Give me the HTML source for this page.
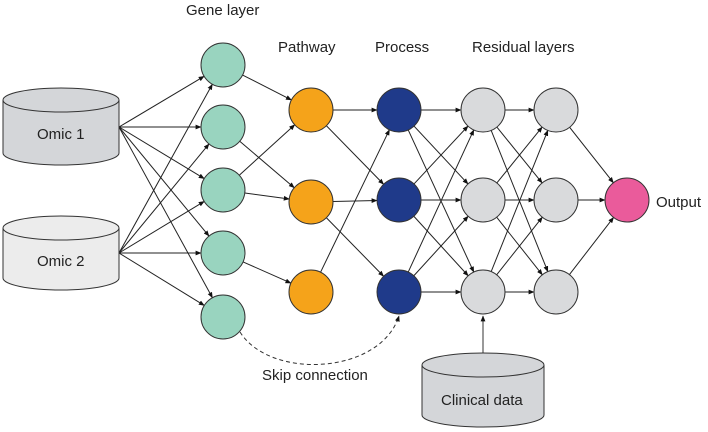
<!DOCTYPE html>
<html><head><meta charset="utf-8"><style>
body{margin:0;background:#fff}
svg{display:block}
text{font-family:"Liberation Sans",sans-serif;font-size:15px;fill:#222}
</style></head><body>
<svg id="s" width="708" height="432" viewBox="0 0 708 432" xmlns="http://www.w3.org/2000/svg">
<defs><marker id="a" viewBox="0 0 10 10" refX="9" refY="5" markerWidth="6" markerHeight="6" orient="auto"><path d="M0,1 L10,5 L0,9 z" fill="#111"/></marker></defs>
<g id="edges" stroke="#222" stroke-width="1" fill="none"></g>
<path d="M240,332 C270,380 380,375 399,316" stroke="#333" stroke-dasharray="4,3" fill="none" marker-end="url(#a)"/>
<line x1="483" y1="355" x2="483" y2="316" stroke="#333" marker-end="url(#a)"/>
<!-- cylinders -->
<g stroke="#333" stroke-width="1">
<path d="M3,100 L3,153 A58,12 0 0 0 119,153 L119,100" fill="#d4d6d9"/>
<ellipse cx="61" cy="100" rx="58" ry="12" fill="#d4d6d9"/>
<path d="M3,228 L3,278 A58,12 0 0 0 119,278 L119,228" fill="#ececec"/>
<ellipse cx="61" cy="228" rx="58" ry="12" fill="#ececec"/>
<path d="M422,365 L422,415 A61,12 0 0 0 544,415 L544,365" fill="#d4d6d9"/>
<ellipse cx="483" cy="365" rx="61" ry="12" fill="#d4d6d9"/>
</g>
<g id="nodes" stroke="#333" stroke-width="1"></g>
<text x="37" y="139">Omic 1</text>
<text x="37" y="266">Omic 2</text>
<text x="441" y="405">Clinical data</text>
<text x="186" y="15">Gene layer</text>
<text x="278" y="52">Pathway</text>
<text x="375" y="52">Process</text>
<text x="472" y="52">Residual layers</text>
<text x="656" y="207">Output</text>
<text x="262" y="380">Skip connection</text>
</svg>
<script>
var R=22,NS="http://www.w3.org/2000/svg";
var G=[65,127,190,253,317].map(function(y){return[223,y]});
var P=[110,202,292].map(function(y){return[311,y]});
var Q=[110,200,292].map(function(y){return[399,y]});
var R1=[110,200,292].map(function(y){return[483,y]});
var R2=[110,200,292].map(function(y){return[556,y]});
var O=[[627,200]];
var e=document.getElementById("edges"),n=document.getElementById("nodes");
function L(a,b,r0){var dx=b[0]-a[0],dy=b[1]-a[1],d=Math.sqrt(dx*dx+dy*dy);
var s=r0||0;var l=document.createElementNS(NS,"line");
l.setAttribute("x1",a[0]+dx/d*s);l.setAttribute("y1",a[1]+dy/d*s);
l.setAttribute("x2",b[0]-dx/d*R);l.setAttribute("y2",b[1]-dy/d*R);
l.setAttribute("marker-end","url(#a)");e.appendChild(l);}
G.forEach(function(g){L([119,127],g);L([119,253],g);});
[[0,0],[1,1],[2,0],[2,1],[3,2]].forEach(function(p){L(G[p[0]],P[p[1]],R)});
[[0,0],[0,1],[1,1],[1,2],[2,0]].forEach(function(p){L(P[p[0]],Q[p[1]],R)});
Q.forEach(function(a){R1.forEach(function(b){L(a,b,R)})});
R1.forEach(function(a){R2.forEach(function(b){L(a,b,R)})});
R2.forEach(function(a){L(a,O[0],R)});
function C(arr,f){arr.forEach(function(p){var c=document.createElementNS(NS,"circle");
c.setAttribute("cx",p[0]);c.setAttribute("cy",p[1]);c.setAttribute("r",R);c.setAttribute("fill",f);n.appendChild(c);});}
C(G,"#99d4bf");C(P,"#f5a31a");C(Q,"#1f3a8a");C(R1,"#d9dadc");C(R2,"#d9dadc");C(O,"#ea5b9b");
</script>
</body></html>
